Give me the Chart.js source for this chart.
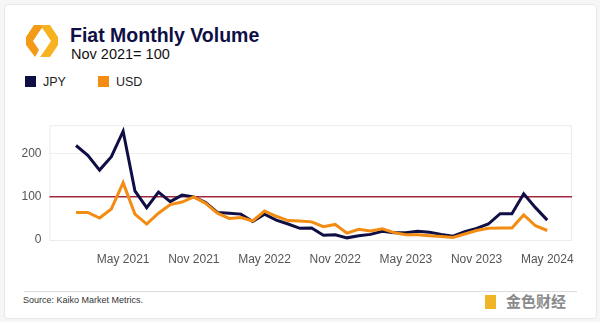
<!DOCTYPE html>
<html>
<head>
<meta charset="utf-8">
<script src="https://cdn.jsdelivr.net/npm/chart.js@4/dist/chart.umd.min.js"></script>
<style>
  body { margin: 0; background: #f6f6f6; font-family: "Liberation Sans", Arial, sans-serif; }
  #card { position: absolute; left: 4px; top: 4px; width: 591px; height: 313px; background: #fff;
          border: 1px solid #e8e8e8; border-radius: 4px; }
  #title { position: absolute; left: 70px; top: 24px; font-size: 19.5px; font-weight: bold; color: #0f0f45; }
  #sub { position: absolute; left: 71px; top: 46px; font-size: 14.5px; color: #111; }
  .leg { position: absolute; top: 75px; font-size: 12.5px; color: #222; }
  .leg i { display: inline-block; width: 11px; height: 11px; vertical-align: -1px; margin-right: 7px; }
  #sep { position: absolute; left: 24px; top: 291px; width: 553px; height: 1px; background: #dcdcdc; }
  #src { position: absolute; left: 23px; top: 295px; font-size: 9px; color: #333; }
  #wm { position: absolute; left: 485px; top: 290px; font-size: 15px; color: #8a8a8a; font-family: "Noto Sans CJK SC"; font-weight: bold; }
  #wm b { display: inline-block; width: 11px; height: 14px; background: #f0b429; margin-right: 10px; vertical-align: -2px; }
  #wrap { position: absolute; left: 10px; top: 110px; width: 575px; height: 160px; }
</style>
</head>
<body>
<div id="card"></div>
<svg style="position:absolute;left:24px;top:24px" width="36" height="34" viewBox="0 0 36 34">
  <polygon points="10,1 20,1 15,8 9,17 15,26 11,33 2,21 2,13" fill="#f39a16"/>
  <polygon points="16,1 26,1 34,13 34,21 26,33 16,33 21,26 27,17 21,8" fill="#f7b21f"/>
</svg>
<div id="title">Fiat Monthly Volume</div>
<div id="sub">Nov 2021= 100</div>
<div class="leg" style="left:25px"><i style="background:#0f0f45"></i>JPY</div>
<div class="leg" style="left:98px"><i style="background:#f28c12"></i>USD</div>
<div id="wrap"><canvas id="myChart"></canvas></div>
<div id="sep"></div>
<div id="src">Source: Kaiko Market Metrics.</div>
<div id="wm"><b></b>金色财经</div>
<script>
// monthly, Jan 2021 .. May 2024 (index 0..40)
var months = ['Jan 2021','Feb 2021','Mar 2021','Apr 2021','May 2021','Jun 2021','Jul 2021','Aug 2021','Sep 2021','Oct 2021','Nov 2021','Dec 2021',
  'Jan 2022','Feb 2022','Mar 2022','Apr 2022','May 2022','Jun 2022','Jul 2022','Aug 2022','Sep 2022','Oct 2022','Nov 2022','Dec 2022',
  'Jan 2023','Feb 2023','Mar 2023','Apr 2023','May 2023','Jun 2023','Jul 2023','Aug 2023','Sep 2023','Oct 2023','Nov 2023','Dec 2023',
  'Jan 2024','Feb 2024','Mar 2024','Apr 2024','May 2024'];
var jpy = [219,196,162,193,252,114,75,111,89,104,100,87,64,62,60,43,60,46,37,27,28,11,12,5,10,13,20,17,17,20,18,13,9,19,27,37,61,61,107,75,46];
var usd = [64,64,51,72,133,60,37,62,82,88,100,85,62,50,52,44,67,55,45,44,42,31,36,16,25,21,26,17,12,12,10,8,6,14,22,27,28,28,58,33,22];
var xTicks = ['May 2021','Nov 2021','May 2022','Nov 2022','May 2023','Nov 2023','May 2024'];
var yTicks = [0, 100, 200];
var baseLine = 100;

function pts(arr) { return arr.map(function(v, i) { return {x: i, y: v}; }); }

var frame = {
  id: 'frame',
  beforeDatasetsDraw: function(chart) {
    var c = chart.ctx, a = chart.chartArea, y = chart.scales.y.getPixelForValue(baseLine);
    c.save();
    c.strokeStyle = '#ececec'; c.lineWidth = 1;
    c.strokeRect(a.left + 0.5, a.top + 0.5, a.right - a.left - 1, a.bottom - a.top);
    c.strokeStyle = '#a3283f'; c.lineWidth = 1.5;
    c.beginPath(); c.moveTo(a.left, y); c.lineTo(a.right, y); c.stroke();
    c.restore();
  }
};

var ctx = document.getElementById('myChart').getContext('2d');
var myChart = new Chart(ctx, {
  type: 'line',
  data: {
    datasets: [
      { label: 'USD', data: pts(usd), borderColor: '#f28c12', borderWidth: 3, pointRadius: 0, tension: 0 },
      { label: 'JPY', data: pts(jpy), borderColor: '#0f0f45', borderWidth: 3, pointRadius: 0, tension: 0 }
    ]
  },
  plugins: [frame],
  options: {
    responsive: true,
    maintainAspectRatio: false,
    animation: false,
    layout: { padding: { top: 13, right: 13, left: 0, bottom: 0 } },
    plugins: { legend: { display: false }, tooltip: { enabled: false } },
    scales: {
      x: {
        type: 'linear', min: -2.25, max: 42.1,
        afterBuildTicks: function(s) { s.ticks = xTicks.map(function(t) { return {value: months.indexOf(t)}; }); },
        afterFit: function(s) { s.height = 30; },
        ticks: { callback: function(v) { return months[v]; }, color: '#555', font: { size: 12, family: 'Liberation Sans' }, maxRotation: 0, padding: 4 },
        grid: { display: false },
        border: { display: false }
      },
      y: {
        min: 0, max: 266,
        afterBuildTicks: function(s) { s.ticks = yTicks.map(function(v) { return {value: v}; }); },
        afterFit: function(s) { s.width = 39.5; },
        ticks: { color: '#555', font: { size: 12, family: 'Liberation Sans' }, padding: 8 },
        grid: { color: '#efefef', drawTicks: false },
        border: { display: false }
      }
    }
  }
});
</script>
</body>
</html>
